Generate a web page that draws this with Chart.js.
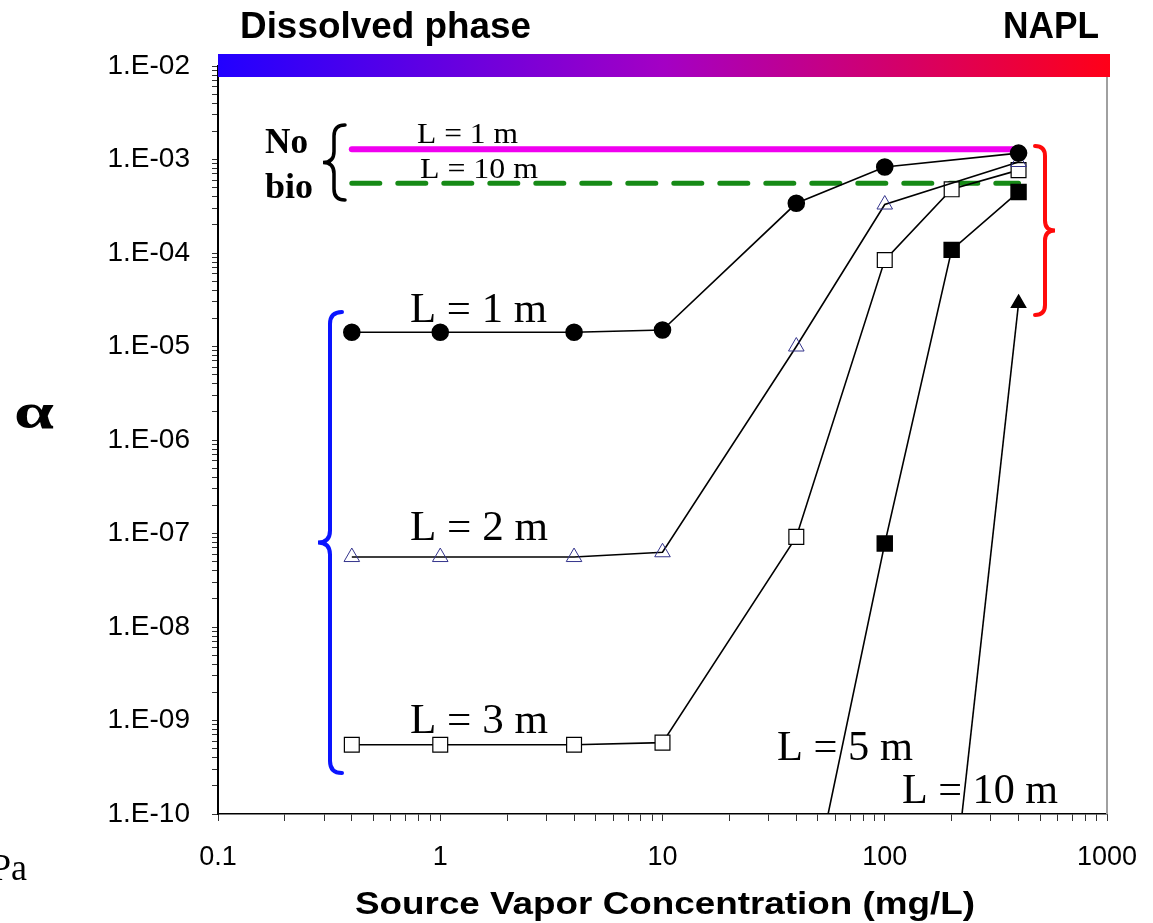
<!DOCTYPE html>
<html>
<head>
<meta charset="utf-8">
<script src="https://cdn.jsdelivr.net/npm/chart.js@4.4.1/dist/chart.umd.min.js"></script>
<style>
  html, body { margin: 0; padding: 0; background: #fff; }
  #wrap { width: 1153px; height: 923px; position: relative; }
</style>
</head>
<body>
<div id="wrap"><canvas id="chart" width="1153" height="923"></canvas></div>
<script>
// source vapor concentrations (mg/L) used for each run
const concL1 = [0.4, 1, 4, 10, 40, 100, 400];
const concL2 = [0.4, 1, 4, 10, 40, 100, 400];
const concL3 = [0.4, 1, 4, 10, 40, 100, 200, 400];
const concL5 = [50, 100, 200, 400];
const concL10 = [200, 400];
const concNoBio = [0.4, 400];

// attenuation factor alpha
const alphaL1 = [1.42e-5, 1.42e-5, 1.42e-5, 1.5e-5, 3.4e-4, 8.3e-4, 1.17e-3];
const alphaL2 = [5.6e-8, 5.6e-8, 5.6e-8, 6.3e-8, 1.0e-5, 3.3e-4, 9.4e-4];
const alphaL3 = [5.5e-10, 5.5e-10, 5.5e-10, 5.8e-10, 9.2e-8, 8.4e-5, 4.8e-4, 7.7e-4];
const alphaL5 = [3e-11, 7.8e-8, 1.08e-4, 4.5e-4];
const alphaL10 = [1e-11, 2.9e-5];
const alphaNoBio1 = [1.29e-3, 1.29e-3];
const alphaNoBio10 = [5.56e-4, 5.56e-4];

// axis ticks
const xDecades = [-1, 0, 1, 2, 3];
const xTickLabels = ['0.1', '1', '10', '100', '1000'];
const yDecades = [-10, -9, -8, -7, -6, -5, -4, -3, -2];
const yTickLabels = ['1.E-10', '1.E-09', '1.E-08', '1.E-07', '1.E-06', '1.E-05', '1.E-04', '1.E-03', '1.E-02'];

function pts(xs, ys) {
    return xs.map((x, i) => ({ x: x, y: ys[i] }));
}

// ticks at 1..9 x 10^n, labels only on the decades
function logTicks(decades) {
    let ticks = [];
    decades.forEach((e, i) => {
        for (let m = 1; m <= 9; m++) {
            if (i === decades.length - 1 && m > 1) break;
            ticks.push({ value: m * Math.pow(10, e) });
        }
    });
    return ticks;
}

function labelFor(value, decades, labels) {
    for (let i = 0; i < decades.length; i++) {
        if (Math.abs(value / Math.pow(10, decades[i]) - 1) < 1e-6) return labels[i];
    }
    return '';
}

// draw text squeezed or stretched to a given width
function fitText(ctx, text, x, y, font, width, color) {
    ctx.save();
    ctx.font = font;
    ctx.fillStyle = color || '#000';
    ctx.textAlign = 'left';
    ctx.textBaseline = 'alphabetic';
    const w = ctx.measureText(text).width;
    ctx.translate(x, y);
    ctx.scale(width ? width / w : 1, 1);
    ctx.fillText(text, 0, 0);
    ctx.restore();
}

// curly brace, dir = -1 tip to the left "{", dir = 1 tip to the right "}"
function brace(ctx, x, y1, y2, d, dir, color, lw) {
    const ym = (y1 + y2) / 2;
    ctx.save();
    ctx.strokeStyle = color;
    ctx.lineWidth = lw;
    ctx.lineCap = 'round';
    ctx.beginPath();
    ctx.moveTo(x - dir * d, y1);
    ctx.quadraticCurveTo(x, y1, x, y1 + d);
    ctx.lineTo(x, ym - d);
    ctx.quadraticCurveTo(x, ym, x + dir * d, ym);
    ctx.quadraticCurveTo(x, ym, x, ym + d);
    ctx.lineTo(x, y2 - d);
    ctx.quadraticCurveTo(x, y2, x - dir * d, y2);
    ctx.stroke();
    ctx.restore();
}

const serif = '"Liberation Serif", "Times New Roman", serif';
const sans = '"Liberation Sans", Arial, sans-serif';

const decorations = {
    id: 'decorations',
    afterDraw(chart) {
        const ctx = chart.ctx;
        const a = chart.chartArea;

        // right frame line
        ctx.save();
        ctx.strokeStyle = '#a0a0a0';
        ctx.lineWidth = 2;
        ctx.beginPath();
        ctx.moveTo(a.right, a.top);
        ctx.lineTo(a.right, a.bottom);
        ctx.stroke();
        ctx.restore();

        // dissolved -> NAPL colour bar
        const g = ctx.createLinearGradient(a.left, 0, a.right + 3, 0);
        g.addColorStop(0, '#2200ff');
        g.addColorStop(0.5, '#a400c4');
        g.addColorStop(1, '#ff0018');
        ctx.fillStyle = g;
        ctx.fillRect(a.left, 54, a.right + 3 - a.left, 23);

        fitText(ctx, 'Dissolved phase', 240, 38, 'bold 37px ' + sans, 291);
        fitText(ctx, 'NAPL', 1003, 38, 'bold 37px ' + sans, 96);
        fitText(ctx, 'Source Vapor Concentration (mg/L)', 355, 914, 'bold 31px ' + sans, 620);

        fitText(ctx, '\u03b1', 14, 428, 'bold 50px ' + serif, 40);
        fitText(ctx, 'Pa', -9, 880, '38px ' + serif, 36);

        // no-bio labels
        fitText(ctx, 'No', 265, 153, 'bold 35px ' + serif, 43);
        fitText(ctx, 'bio', 265, 198, 'bold 35px ' + serif, 48);
        brace(ctx, 334, 125, 200, 11, -1, '#000', 3.5);
        fitText(ctx, 'L = 1 m', 417, 143, '30px ' + serif, 101);
        fitText(ctx, 'L = 10 m', 420, 178, '30px ' + serif, 118);

        // run labels
        fitText(ctx, 'L = 1 m', 410, 322, '42px ' + serif, 137);
        fitText(ctx, 'L = 2 m', 410, 540, '42px ' + serif, 138);
        fitText(ctx, 'L = 3 m', 410, 733, '42px ' + serif, 138);
        fitText(ctx, 'L = 5 m', 777, 760, '42px ' + serif, 136);
        fitText(ctx, 'L = 10 m', 902, 803, '42px ' + serif, 156);

        brace(ctx, 330, 312, 773, 12, -1, '#0a14ff', 4);
        brace(ctx, 1045, 146, 315, 10, 1, '#ff0a0a', 4);
    }
};

const ctx = document.getElementById('chart').getContext('2d');
const myChart = new Chart(ctx, {
    type: 'line',
    data: {
        datasets: [
            {
                label: 'L = 1 m',
                data: pts(concL1, alphaL1),
                borderColor: '#000',
                borderWidth: 1.6,
                pointStyle: 'circle',
                pointRadius: 8,
                pointBackgroundColor: '#000',
                pointBorderColor: '#000'
            },
            {
                label: 'L = 2 m',
                data: pts(concL2, alphaL2),
                borderColor: '#000',
                borderWidth: 1.6,
                pointStyle: 'triangle',
                pointRadius: 9,
                pointBorderWidth: 1,
                pointBackgroundColor: 'rgba(255,255,255,0)',
                pointBorderColor: '#34348c'
            },
            {
                label: 'L = 3 m',
                data: pts(concL3, alphaL3),
                borderColor: '#000',
                borderWidth: 1.6,
                pointStyle: 'rect',
                pointRadius: 10.5,
                pointBorderWidth: 1.2,
                pointBackgroundColor: '#fff',
                pointBorderColor: '#000'
            },
            {
                label: 'L = 5 m',
                data: pts(concL5, alphaL5),
                borderColor: '#000',
                borderWidth: 1.6,
                pointStyle: 'rect',
                pointRadius: 10.5,
                pointBackgroundColor: '#000',
                pointBorderColor: '#000'
            },
            {
                label: 'L = 10 m',
                data: pts(concL10, alphaL10),
                borderColor: '#000',
                borderWidth: 1.6,
                pointStyle: 'triangle',
                pointRadius: 8,
                pointBackgroundColor: '#000',
                pointBorderColor: '#000'
            },
            {
                label: 'No bio, L = 1 m',
                data: pts(concNoBio, alphaNoBio1),
                borderColor: '#f000f0',
                borderWidth: 6,
                borderCapStyle: 'round',
                pointRadius: 0
            },
            {
                label: 'No bio, L = 10 m',
                data: pts(concNoBio, alphaNoBio10),
                borderColor: '#168a16',
                borderWidth: 5,
                borderDash: [28, 18],
                borderCapStyle: 'round',
                pointRadius: 0
            }
        ]
    },
    options: {
        responsive: false,
        animation: false,
        events: [],
        layout: {
            padding: { top: 66, right: 46, left: 0, bottom: 0 }
        },
        plugins: {
            legend: { display: false },
            tooltip: { enabled: false }
        },
        scales: {
            x: {
                type: 'logarithmic',
                min: 0.1,
                max: 1000,
                afterBuildTicks: (s) => { s.ticks = logTicks(xDecades); },
                afterFit: (s) => { s.height = 109; s.paddingLeft = 0; s.paddingRight = 0; },
                border: { display: true, color: '#000', width: 1.5 },
                grid: {
                    drawOnChartArea: false,
                    drawTicks: true,
                    tickLength: 7,
                    color: '#333'
                },
                ticks: {
                    autoSkip: false,
                    maxRotation: 0,
                    minRotation: 0,
                    padding: 20,
                    color: '#000',
                    font: { family: sans, size: 27 },
                    callback: (v) => labelFor(v, xDecades, xTickLabels)
                }
            },
            y: {
                type: 'logarithmic',
                min: 1e-10,
                max: 1e-2,
                afterBuildTicks: (s) => { s.ticks = logTicks(yDecades); },
                afterFit: (s) => { s.width = 218; s.paddingTop = 0; s.paddingBottom = 0; },
                border: { display: true, color: '#000', width: 2 },
                grid: {
                    drawOnChartArea: false,
                    drawTicks: true,
                    tickLength: 6,
                    color: '#333'
                },
                ticks: {
                    autoSkip: false,
                    padding: 22,
                    color: '#000',
                    font: { family: sans, size: 28 },
                    callback: (v) => labelFor(v, yDecades, yTickLabels)
                }
            }
        }
    },
    plugins: [decorations]
});
</script>
</body>
</html>
